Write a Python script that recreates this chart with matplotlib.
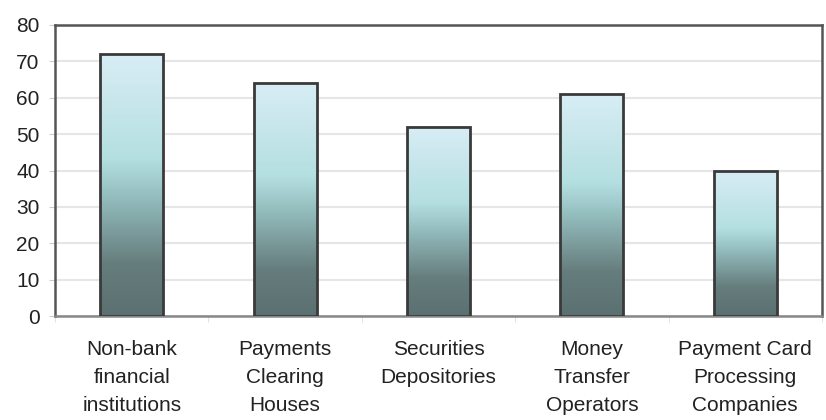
import numpy as np
import matplotlib
matplotlib.use("Agg")
import matplotlib.pyplot as plt
from matplotlib.colors import LinearSegmentedColormap

categories = ["Non-bank\nfinancial\ninstitutions", "Payments\nClearing\nHouses",
              "Securities\nDepositories", "Money\nTransfer\nOperators",
              "Payment Card\nProcessing\nCompanies"]
values = [72, 64, 52, 61, 40]
yticks = [0, 10, 20, 30, 40, 50, 60, 70, 80]

plt.rcParams['font.family'] = ['Liberation Sans', 'DejaVu Sans']

fig = plt.figure(figsize=(8.26, 4.2), dpi=100)
ax = fig.add_axes([55/826, 1 - 316/420, 767/826, 291/420])

x = np.arange(len(categories))
bars = ax.bar(x, values, width=0.41, color='none', edgecolor='#3a3a3a', linewidth=2, zorder=3)

cmap = LinearSegmentedColormap.from_list("g", [
    (0.0, "#5b7071"),
    (0.2, "#667d7d"),
    (0.45, "#93bcbd"),
    (0.6, "#b4dfe0"),
    (1.0, "#d8edf5"),
])
grad = np.linspace(0, 1, 256).reshape(-1, 1)
for b in bars:
    x0, w, h = b.get_x(), b.get_width(), b.get_height()
    ax.imshow(grad, cmap=cmap, origin='lower', aspect='auto',
              extent=[x0, x0 + w, 0, h], zorder=2, interpolation='bilinear')

ax.set_xlim(-0.5, len(categories) - 0.5)
ax.set_ylim(0, 80)
ax.set_yticks(yticks)
ax.set_yticklabels([str(t) for t in yticks], fontsize=15, color='#222222')
ax.yaxis.grid(True, color='#e6e6e6', linewidth=1.5, zorder=0)
ax.set_axisbelow(True)

ax.set_xticks(x)
ax.set_xticklabels(categories, fontsize=15, color='#222222', linespacing=1.62)
ax.tick_params(axis='x', length=0, pad=17)
ax.tick_params(axis='y', length=4, color='#cccccc', pad=7)
ax.set_xticks(np.arange(-0.5, len(categories) + 0.5, 1), minor=True)
ax.tick_params(axis='x', which='minor', length=4, color='#dddddd')

for s in ['left', 'top', 'right']:
    ax.spines[s].set_color('#555555')
    ax.spines[s].set_linewidth(1.8)
ax.spines['bottom'].set_color('#888888')
ax.spines['bottom'].set_linewidth(1.8)

fig.savefig("out.png", dpi=100)
